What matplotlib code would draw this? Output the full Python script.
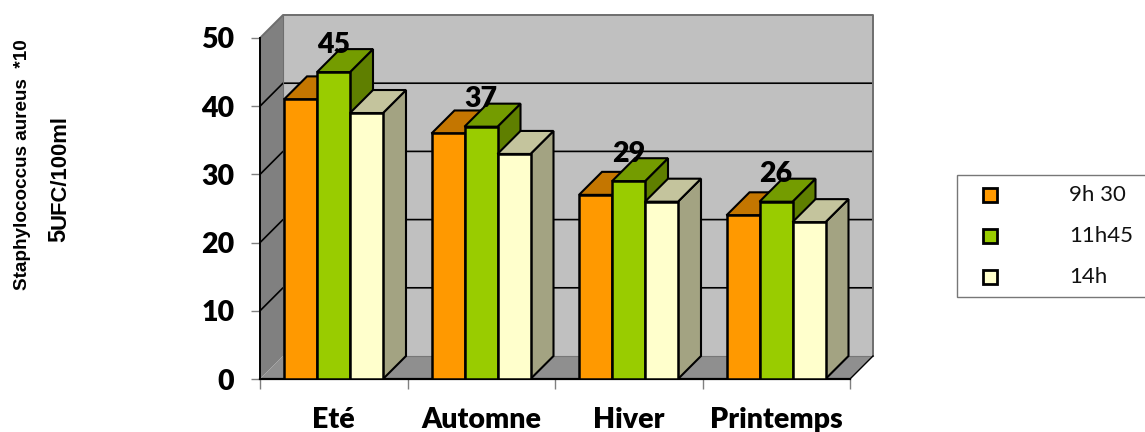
import matplotlib
matplotlib.use('Agg')
import matplotlib.pyplot as plt
from matplotlib.patches import Polygon, Rectangle
from matplotlib.lines import Line2D

categories = ['Eté', 'Automne', 'Hiver', 'Printemps']
series_names = ['9h 30', '11h45', '14h']
values_930 = [41, 36, 27, 24]
values_1145 = [45, 37, 29, 26]
values_14 = [39, 33, 26, 23]
y_ticks = [0, 10, 20, 30, 40, 50]

W, H = 1145, 432
fig = plt.figure(figsize=(W / 100, H / 100), dpi=100)
ax = fig.add_axes([260 / W, 1 - 379 / H, 590 / W, 341 / H])
ax.set_xlim(0, 4)
ax.set_ylim(0, 50)
ax.patch.set_visible(False)

# depth of the fake 3d box in data units
dx = 23 / 147.5
dy = 23 / 6.82
bar_w = 33 / 147.5
bar_start = 24 / 147.5


def poly(pts, fc, ec='black', lw=1.5, z=2):
    ax.add_patch(Polygon(pts, closed=True, facecolor=fc, edgecolor=ec, linewidth=lw,
                         zorder=z, clip_on=False, joinstyle='miter'))


# walls and floor
poly([(dx, dy), (4 + dx, dy), (4 + dx, 50 + dy), (dx, 50 + dy)], '#c0c0c0', 'none', 0, 1)
poly([(0, 0), (dx, dy), (dx, 50 + dy), (0, 50)], '#808080', 'none', 0, 1)
poly([(0, 0), (dx, dy), (4 + dx, dy), (4, 0)], '#8f8f8f', 'none', 0, 1.2)
for v in y_ticks[1:-1]:
    ax.plot([0, dx, 4 + dx], [v, v + dy, v + dy], color='black', lw=1.2, zorder=1.5, clip_on=False)
ax.plot([0, dx, 4 + dx, 4 + dx], [50, 50 + dy, 50 + dy, dy], color='#6e6e6e', lw=1.4, zorder=1.5, clip_on=False)
ax.plot([dx, dx], [dy, 50 + dy], color='#6e6e6e', lw=0.8, zorder=1.5, clip_on=False)
ax.plot([dx, 4 + dx], [dy, dy], color='#777777', lw=0.8, zorder=1.5, clip_on=False)
ax.plot([4, 4 + dx], [0, dy], color='black', lw=1.0, zorder=1.5, clip_on=False)

# bars: front, side, top
all_values = [values_930, values_1145, values_14]
front_cols = ['#ff9900', '#99cc00', '#ffffcc']
top_cols = ['#c47600', '#749c00', '#c4c49d']
side_cols = ['#a36200', '#5f7f00', '#a3a382']
for i in range(len(categories)):
    for s in range(3):
        x0 = i + bar_start + s * bar_w
        x1 = x0 + bar_w
        v = all_values[s][i]
        z = 2 + i + s * 0.1
        poly([(x1, 0), (x1 + dx, dy), (x1 + dx, v + dy), (x1, v)], side_cols[s], z=z)
        poly([(x0, v), (x1, v), (x1 + dx, v + dy), (x0 + dx, v + dy)], top_cols[s], z=z)
        ax.bar(x0, v, bar_w, align='edge', color=front_cols[s], edgecolor='black', linewidth=1.8, zorder=z)

# value labels over the middle series
for i, v in enumerate(values_1145):
    ax.text(i + bar_start + 1.5 * bar_w, v + 4.0, str(v), ha='center', va='center',
            fontfamily='Lato', fontweight='heavy', fontsize=20.5, color='black', zorder=20, clip_on=False)

# axes
for side in ['top', 'right']:
    ax.spines[side].set_visible(False)
ax.spines['left'].set_linewidth(1.4)
ax.spines['bottom'].set_linewidth(1.6)
ax.spines['left'].set_zorder(1.6)
ax.spines['bottom'].set_zorder(1.6)
ax.set_yticks(y_ticks)
ax.set_yticklabels([str(v) for v in y_ticks], fontfamily='Lato', fontweight='heavy', fontsize=20.5)
ax.tick_params(axis='y', length=6.5, width=1.0, color='#808080', pad=12)
ax.set_xticks(range(5))
ax.set_xticklabels([])
ax.tick_params(axis='x', which='major', length=7, width=1.0, color='#808080')
ax.set_xticks([i + 0.5 for i in range(4)], minor=True)
ax.set_xticklabels(categories, minor=True, fontfamily='Lato', fontweight='heavy', fontsize=20.5)
ax.tick_params(axis='x', which='minor', length=0, pad=20)

# axis title in two rotated lines
fig.text(23 / W, 1 - 165 / H, 'Staphylococcus aureus  *10', rotation=90, ha='center', va='center',
         fontfamily='Liberation Sans', fontweight='bold', fontsize=13.6)
fig.text(59 / W, 1 - 242 / H, '5', rotation=90, ha='center', va='bottom',
         fontfamily='Liberation Sans', fontweight='bold', fontsize=17)
fig.text(60 / W, 1 - 229 / H, 'UFC/100ml', rotation=90, ha='center', va='bottom',
         fontfamily='Liberation Sans', fontweight='bold', fontsize=15.8)

# legend box runs off the right edge
fig.add_artist(Rectangle((957 / W, 1 - 297 / H), 200 / W, 122 / H, transform=fig.transFigure,
                         facecolor='white', edgecolor='#777777', linewidth=1.0))
for name, col, py in zip(series_names, front_cols, [195, 236, 277]):
    fig.add_artist(Line2D([990 / W], [1 - py / H], transform=fig.transFigure, marker='s', markersize=9.5,
                          markerfacecolor=col, markeredgecolor='black', markeredgewidth=2, linestyle='none'))
    fig.text(1069 / W, 1 - py / H, name, ha='left', va='center', fontfamily='Lato', fontsize=16, color='#111111')

fig.savefig('out.png', dpi=100)
